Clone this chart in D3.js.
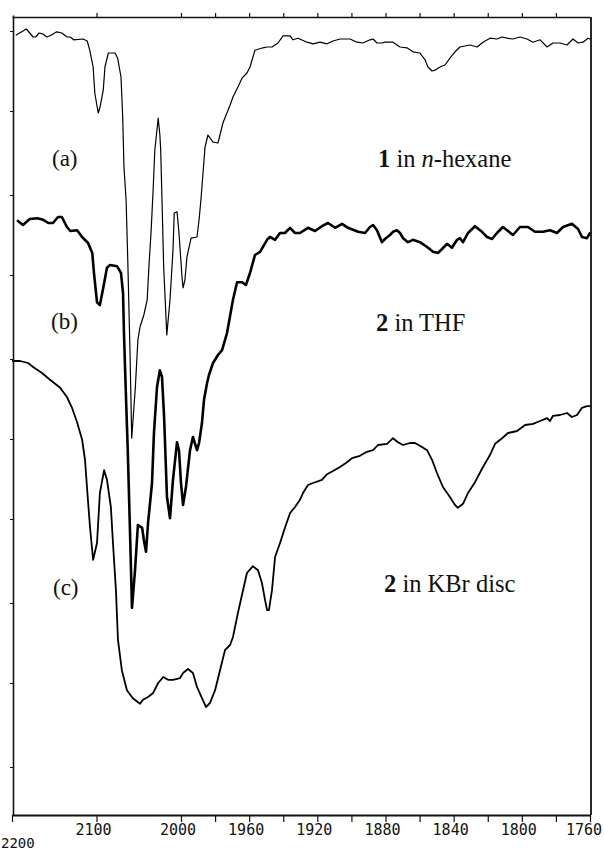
<!DOCTYPE html>
<html>
<head>
<meta charset="utf-8">
<script src="https://cdn.jsdelivr.net/npm/d3@7"></script>
<style>
  html, body { margin: 0; padding: 0; background: #fff; }
  svg { display: block; }
</style>
</head>
<body>
<svg id="chart"></svg>
<script>
const width = 604;
const height = 851;

// Spectra: [wavenumber cm-1, relative transmittance]
// (a) 1 in n-hexane
const traceA = [
  [2195, 97.5], [2183, 98.25], [2179, 97.75], [2175, 97.25], [2172, 97.25], [2168, 97.75],
  [2163, 97.6], [2159, 97.25], [2155, 97.4], [2147, 97.9], [2141, 97.75], [2135, 97.25],
  [2131, 97.25], [2127, 96.9], [2116, 97], [2111, 96.75], [2108, 95.6], [2104, 93.5],
  [2102, 90.25], [2098, 87.75], [2096, 88.4], [2092, 90.6], [2090, 93.5], [2086, 95.25],
  [2078, 95.25], [2075, 94.6], [2071, 92.25], [2069, 87.25], [2067.5, 81], [2065, 76.9],
  [2063, 69.4], [2060.4, 58.1], [2058.3, 47.1], [2054, 53.5], [2051, 59.4], [2048.5, 61],
  [2044, 62.5], [2040, 64.4], [2038, 68.5], [2035.5, 72.75], [2033, 78.1], [2031, 83.1],
  [2027, 87.1], [2025, 85], [2024, 83.1], [2022.5, 76.9], [2020.5, 68.5], [2016.8, 60],
  [2013, 64.4], [2009.5, 70.6], [2008, 75.25], [2004.7, 75.4], [2002.4, 72.75], [1999.4, 67.25],
  [1998.8, 65.9], [1997.7, 66.9], [1996.5, 69.75], [1994.1, 72.1], [1990.6, 72.25], [1989.4, 74.4],
  [1988.3, 76.9], [1985.9, 83.5], [1984.2, 85], [1981.2, 84.1], [1978.3, 84], [1975.4, 86.5],
  [1971.2, 88.75], [1969.5, 89.75], [1966.6, 91], [1964.2, 92.1], [1961.3, 92.75], [1959.5, 93.5],
  [1956.6, 95.6], [1951.9, 95.9], [1949.5, 96], [1946.6, 96], [1943.1, 96.5], [1940.1, 97.4],
  [1936, 97.4], [1934.3, 96.9], [1931.3, 97.1], [1926.1, 96.6], [1922.5, 96.4], [1918.4, 96.6],
  [1914.3, 96.4], [1910.8, 96.75], [1906.7, 97], [1900.8, 97], [1896.7, 96.6], [1893.2, 96.5],
  [1889.1, 96.9], [1887.3, 97], [1885, 96.5], [1882.1, 96.5], [1880.3, 96.6], [1875.6, 96.6],
  [1871.5, 96], [1867.4, 95.9], [1863.9, 95.4], [1859.8, 95.25], [1856.8, 94.4], [1855.1, 93.5],
  [1852.7, 93], [1851, 93.1], [1848, 93.5], [1845.1, 93.75], [1842.2, 94.6], [1839.2, 95.4],
  [1836.3, 96], [1830.4, 96.25], [1826.3, 96], [1822.8, 96.6], [1818.7, 97.1], [1814.6, 97],
  [1811.6, 97.25], [1808.7, 97.1], [1805.2, 97], [1801.1, 97.25], [1797, 97], [1793.4, 96.6],
  [1789.3, 96.9], [1785.2, 96], [1781.7, 96.5], [1777.6, 96.5], [1773.5, 96.25], [1770, 97],
  [1767, 96.5], [1764.1, 96.6], [1761.2, 97.1], [1760, 97]
];

// (b) 2 in THF
const traceB = [
  [2193, 74.25], [2187, 73.75], [2179, 74.5], [2170, 74.6], [2163, 74.4], [2157, 74],
  [2151.5, 74], [2145.6, 74.75], [2141, 74.75], [2135, 73.5], [2131, 73], [2123, 73.1],
  [2117, 72.25], [2110, 71.5], [2105, 70.25], [2103, 67.75], [2099.4, 64.1], [2096, 63.75],
  [2092, 65.9], [2087.6, 68.4], [2084, 68.75], [2075.7, 68.6], [2071, 67.75], [2068.6, 65.25],
  [2067.5, 60.25], [2065, 51.9], [2063, 45.6], [2060.4, 35.6], [2058, 25.9], [2054.4, 30.6],
  [2051, 36.25], [2046, 35.9], [2044, 34.4], [2041.4, 32.9], [2039, 36.5], [2034.3, 41.5],
  [2032, 47.75], [2028.4, 53.5], [2025, 55.6], [2022.5, 54.75], [2020, 49.75], [2016.6, 39.75],
  [2013, 37.1], [2009.5, 41.9], [2004.7, 46.6], [2002.4, 45.6], [2000, 41.5], [1998.8, 38.75],
  [1997.1, 41], [1994.7, 45.6], [1993, 47.25], [1990.6, 45.6], [1989.4, 46.5], [1987.7, 49],
  [1986.5, 51.9], [1984.7, 54], [1983.6, 55], [1981.2, 56.5], [1978.3, 57.5], [1975.9, 58.1],
  [1973, 60.25], [1969.5, 64.4], [1967.1, 66.6], [1964.2, 66.6], [1961.9, 66.25], [1959.5, 67.75],
  [1956.6, 70], [1953.6, 70.4], [1949.5, 71.9], [1947.8, 72.25], [1944.8, 71.9], [1941.9, 72.75],
  [1939, 72.75], [1936, 73.4], [1933.1, 72.75], [1930.2, 72.75], [1925.5, 73.4], [1921.4, 73],
  [1917.3, 73.6], [1913.7, 74], [1909.6, 73.4], [1905.5, 73.9], [1902, 73.4], [1896.1, 72.9],
  [1892, 72.75], [1889.1, 73.5], [1887.3, 73.75], [1885, 73.1], [1882.1, 71.6], [1880.3, 72],
  [1877.4, 72.5], [1875.6, 72.9], [1873.3, 73.1], [1871.5, 72.75], [1869.7, 72.1], [1866.8, 71.6],
  [1863.9, 71.9], [1859.8, 71.6], [1855.6, 71], [1852.1, 70.4], [1849.2, 70.25], [1846.8, 70.75],
  [1843.9, 71.4], [1841, 70.9], [1838, 71.9], [1836.3, 72.1], [1834.5, 71.6], [1831.6, 72.75],
  [1827.5, 73.6], [1823.4, 72.9], [1820.4, 72.25], [1817.5, 72], [1814.6, 72.75], [1811.1, 73.5],
  [1808.1, 73], [1805.2, 72.5], [1801.1, 73.5], [1796.4, 73.5], [1792.3, 72.9], [1787.6, 72.9],
  [1783.5, 73.1], [1779.4, 72.75], [1775.8, 73.5], [1770.6, 73.9], [1767, 73.25], [1764.7, 72.25],
  [1761.8, 72.1], [1760, 72.75]
];

// (c) 2 in KBr disc
const traceC = [
  [2199, 56.75], [2190.5, 56.75], [2181, 56.5], [2175, 56], [2164.5, 55.25], [2155, 54.4],
  [2143, 53.4], [2135, 52.25], [2129, 50.9], [2123, 49.1], [2117, 46.9], [2113.6, 44.4],
  [2111, 40.6], [2107.7, 36], [2104, 31.9], [2099.4, 34], [2096, 40.25], [2091, 43.1],
  [2087.6, 41.9], [2083, 38.5], [2080.5, 34], [2077, 28.1], [2074.6, 21.9], [2070, 18.1],
  [2064, 15.6], [2057, 14.6], [2048.5, 13.9], [2045, 14.4], [2039, 14.75], [2033, 15.25],
  [2027, 16.5], [2021, 17.25], [2015.4, 16.9], [2009.5, 16.9], [2001.2, 17.1], [1998.8, 17.75],
  [1995.9, 18.25], [1993, 17.75], [1990.6, 16], [1987.7, 14.6], [1985.3, 13.5], [1983, 14],
  [1980, 15.6], [1977.1, 18.1], [1974.2, 20.6], [1971.2, 21.25], [1969.5, 22.25], [1966.6, 25.25],
  [1963.6, 28.1], [1961.3, 30.25], [1957.8, 31.1], [1954.8, 30.6], [1952.5, 29], [1950.7, 26.9],
  [1949.5, 25.6], [1948.4, 25.6], [1946.6, 28.1], [1944.8, 32.25], [1941.9, 34], [1939, 35.9],
  [1936, 37.75], [1933.1, 38.5], [1930.2, 39.4], [1928.4, 40.25], [1925.5, 41.25], [1922.5, 41.5],
  [1917.3, 41.9], [1914.3, 42.6], [1910.8, 43], [1906.7, 43.5], [1902.6, 44.1], [1899.7, 44.6],
  [1895, 44.9], [1890.9, 45.4], [1887.3, 45.6], [1884.4, 46.25], [1879.1, 46.4], [1875.6, 47.1],
  [1872.7, 46.6], [1869.7, 46.25], [1865.6, 46.5], [1862.7, 46.5], [1858.6, 46], [1855.6, 45.6],
  [1852.7, 44.4], [1849.8, 42.75], [1846.3, 41], [1842.2, 39.75], [1839.2, 38.75], [1837.5, 38.4],
  [1834.5, 38.9], [1831.6, 40.25], [1827.5, 41.6], [1822.8, 43.5], [1818.7, 45], [1815.7, 46.4],
  [1811.6, 47.1], [1808.1, 47.75], [1802.8, 48], [1798.1, 48.75], [1793.4, 48.9], [1789.3, 49.25],
  [1785.2, 49.6], [1783.5, 49.25], [1781.7, 49.9], [1777.6, 50], [1773.5, 50.25], [1770.6, 49.75],
  [1767.6, 50], [1764.7, 50.9], [1761.8, 51.1], [1760, 51.1]
];

// Axis ticks
const bottomTicks = [2200, 2100, 2000, 1980, 1960, 1940, 1920, 1900, 1880, 1860, 1840, 1820, 1800, 1780, 1760];
const topTicks = [2100, 2000, 1980, 1960, 1940, 1920, 1900, 1880, 1860, 1840, 1820, 1800, 1780];
const tickLabels = [2200, 2100, 2000, 1960, 1920, 1880, 1840, 1800, 1760];
const leftTicks = [98, 88, 77.5, 67.5, 57, 47, 37, 26.5, 16.5, 6];

const fontSerif = "'Liberation Serif', 'Times New Roman', serif";
const fontMono = "'DejaVu Sans Mono', monospace";

const svg = d3.select("#chart")
  .attr("width", width)
  .attr("height", height)
  .style("background", "#fff");

// Scale changes at 2000 cm-1, as on the instrument chart
const x = d3.scaleLinear()
  .domain([2200, 2000, 1760])
  .range([12, 181, 590]);

const y = d3.scaleLinear()
  .domain([0, 100])
  .range([815, 15]);

// Frame / axes
const frameColor = "#111";

const bottomAxis = svg.append("g")
  .attr("transform", "translate(0,815)")
  .call(d3.axisBottom(x).tickValues(bottomTicks).tickSize(7).tickSizeOuter(0).tickFormat(""));
bottomAxis.select(".domain").attr("stroke", frameColor).attr("stroke-width", 2.2);
bottomAxis.selectAll(".tick line").attr("stroke", frameColor).attr("stroke-width", 1.2);

const topAxis = svg.append("g")
  .attr("transform", "translate(0,17)")
  .call(d3.axisTop(x).tickValues(topTicks).tickSize(4).tickSizeOuter(0).tickFormat(""));
topAxis.select(".domain").attr("stroke", frameColor).attr("stroke-width", 1.6);
topAxis.selectAll(".tick line").attr("stroke", frameColor).attr("stroke-width", 1.2);

const leftAxis = svg.append("g")
  .attr("transform", "translate(13,0)")
  .call(d3.axisLeft(y).tickValues(leftTicks).tickSize(3).tickSizeOuter(0).tickFormat(""));
leftAxis.select(".domain").attr("stroke", frameColor).attr("stroke-width", 1.6);
leftAxis.selectAll(".tick line").attr("stroke", frameColor).attr("stroke-width", 1);

// Right side of the frame
svg.append("line")
  .attr("x1", x(1760) + 1)
  .attr("x2", x(1760) + 1)
  .attr("y1", 17)
  .attr("y2", 815)
  .attr("stroke", frameColor)
  .attr("stroke-width", 1.8);

// Tick labels (2200 sits lower, at the left page edge)
svg.append("g")
  .selectAll("text")
  .data(tickLabels)
  .join("text")
  .attr("x", d => d === 2200 ? 1 : d === 1760 ? x(d) - 6 : x(d) - 3)
  .attr("y", d => d === 2200 ? 848 : 835)
  .attr("text-anchor", d => d === 2200 ? "start" : "middle")
  .attr("font-family", fontMono)
  .attr("font-size", d => d === 2200 ? 14 : 15)
  .attr("fill", "#111")
  .text(d => d);

// Spectra
const line = d3.line()
  .x(d => x(d[0]))
  .y(d => y(d[1]));

const traces = [
  { data: traceA, width: 1.2 },
  { data: traceB, width: 2.6 },
  { data: traceC, width: 1.8 }
];

svg.append("g")
  .selectAll("path")
  .data(traces)
  .join("path")
  .attr("d", d => line(d.data))
  .attr("fill", "none")
  .attr("stroke", "#000")
  .attr("stroke-width", d => d.width)
  .attr("stroke-linejoin", "round")
  .attr("stroke-linecap", "round");

// Trace labels
const letterLabels = [
  { text: "(a)", x: 52, y: 166 },
  { text: "(b)", x: 51, y: 329 },
  { text: "(c)", x: 53, y: 595 }
];

svg.append("g")
  .selectAll("text")
  .data(letterLabels)
  .join("text")
  .attr("x", d => d.x)
  .attr("y", d => d.y)
  .attr("font-family", fontSerif)
  .attr("font-size", 23)
  .attr("fill", "#111")
  .text(d => d.text);

const sampleLabels = [
  { parts: [["1", "bold"], [" in ", ""], ["n", "italic"], ["-hexane", ""]], x: 378, y: 167 },
  { parts: [["2", "bold"], [" in THF", ""]], x: 376, y: 331 },
  { parts: [["2", "bold"], [" in KBr disc", ""]], x: 384, y: 592 }
];

sampleLabels.forEach(lab => {
  const t = svg.append("text")
    .attr("x", lab.x)
    .attr("y", lab.y)
    .attr("font-family", fontSerif)
    .attr("font-size", 24.5)
    .attr("fill", "#111")
    .style("white-space", "pre");
  lab.parts.forEach(([s, style]) => {
    const ts = t.append("tspan").text(s);
    if (style === "bold") ts.attr("font-weight", "bold");
    if (style === "italic") ts.attr("font-style", "italic");
  });
});
</script>
</body>
</html>
